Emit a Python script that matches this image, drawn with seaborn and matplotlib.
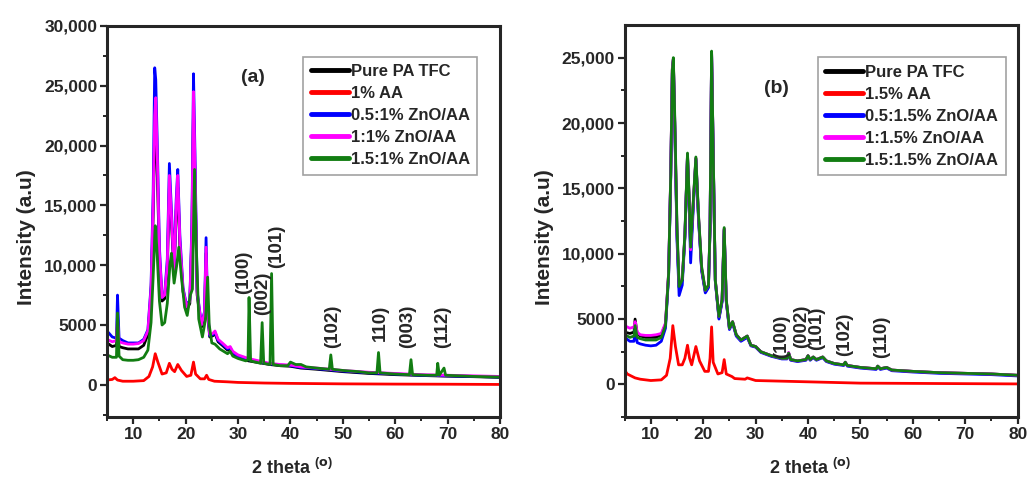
import matplotlib
matplotlib.use("Agg")
import matplotlib.pyplot as plt
import seaborn as sns
import pandas as pd

# ---------------- data: panel (a) ----------------
XA = [5, 6, 6.8, 7.0, 7.3, 8, 9, 10, 11, 12, 12.8, 13.4, 13.8, 14.1, 14.3, 14.6, 15.0, 15.5, 16.0, 16.5,
      16.9, 17.3, 17.8, 18.2, 18.5, 18.9, 19.5, 20.2, 20.8, 21.2, 21.5, 21.8, 22.2, 23.0, 23.6, 23.9, 24.2,
      24.6, 25.2, 25.6, 26.2, 27, 28, 28.5, 29, 30, 32, 34, 36, 38, 40, 42, 45, 50, 55, 60, 65, 70, 75, 80]
A_PURE = [3500, 3200, 3300, 5000, 3200, 3100, 3000, 3000, 3000, 3300, 4200, 7500, 14000, 21000, 22000,
          17500, 10500, 7000, 7200, 9500, 16500, 13500, 9200, 14500, 16500, 11500, 7800, 6300, 6800, 12500,
          23000, 17000, 7500, 4800, 5800, 11000, 5800, 4000, 4100, 4300, 3600, 3300, 2900, 3000, 2600,
          2300, 2000, 1850, 1700, 1600, 1550, 1400, 1300, 1100, 950, 850, 780, 720, 680, 620]
A_ZNO05 = [4500, 4000, 3900, 7500, 3900, 3700, 3500, 3500, 3500, 3800, 4600, 8300, 16000, 26500, 25500,
           20000, 11500, 7300, 7600, 10500, 18500, 14500, 9600, 15500, 18000, 12500, 8100, 6600, 7100, 13500,
           26000, 19000, 7800, 5100, 6100, 12300, 6100, 4100, 4200, 4400, 3700, 3400, 3000, 3100, 2700,
           2400, 2100, 1900, 1750, 1650, 1600, 1450, 1350, 1150, 1000, 900, 800, 750, 700, 650]
A_ZNO1 = [3800, 3600, 3700, 5500, 3600, 3500, 3400, 3400, 3450, 3700, 4500, 8000, 15000, 22500, 24000,
          19000, 11000, 7300, 7500, 10000, 17500, 14000, 9500, 15000, 17500, 12000, 8000, 6500, 7000, 13000,
          24500, 18000, 7700, 5000, 6000, 11500, 6000, 4200, 4300, 4500, 3800, 3500, 3100, 3200, 2800,
          2500, 2200, 2000, 1800, 1700, 1650, 1500, 1400, 1200, 1050, 950, 850, 800, 750, 700]
XA_G = [5, 6, 6.8, 7.0, 7.3, 8, 9, 10, 11, 12, 12.8, 13.4, 13.8, 14.2, 14.5, 15.0, 15.5, 16.0, 16.5, 17.0,
        17.3, 17.8, 18.3, 18.7, 19.2, 19.8, 20.3, 20.9, 21.3, 21.7, 22.0, 22.5, 23.2, 23.8, 24.2, 24.5, 25.0,
        25.6, 26.5, 28, 28.5, 29, 30, 31.5, 31.9, 32.1, 32.4, 34.3, 34.6, 34.9, 36.1, 36.4, 36.7, 38, 39.5,
        40, 41, 42, 43, 45, 47.4, 47.7, 48.0, 50, 53, 55, 56.5, 56.8, 57.1, 60, 62.7, 63.0, 63.3, 66, 67.9,
        68.1, 68.4, 69.3, 69.6, 75, 80]
A_ZNO15 = [2500, 2300, 2300, 6000, 2400, 2100, 2050, 2050, 2100, 2300, 2900, 5200, 9000, 13300, 11500,
           7000, 5000, 5200, 6800, 10000, 11000, 8500, 10000, 11500, 9000, 6500, 5800, 7500, 8000, 18000,
           12000, 5500, 4000, 5500, 9000, 5000, 3500, 3400, 3000, 2600, 2800, 2400, 2200, 2000, 2100,
           7300, 2000, 1800, 5200, 1800, 1700, 9300, 1700, 1600, 1600, 1900, 1700, 1700, 1500, 1400,
           1300, 2500, 1300, 1200, 1100, 1000, 1000, 2700, 1000, 900, 850, 2100, 850, 800, 800,
           1800, 800, 1400, 800, 700, 650]
XA_R = [5, 6, 6.5, 7.0, 8, 10, 12, 13, 13.7, 14.2, 14.7, 15.5, 16.3, 16.9, 17.4, 17.9, 18.5, 19.2, 20.2,
        21.0, 21.5, 21.9, 22.8, 23.6, 24.0, 24.4, 25.5, 28, 30, 35, 40, 50, 60, 70, 80]
A_AA = [400, 450, 600, 400, 300, 300, 350, 700, 1500, 2600, 1900, 900, 1000, 1800, 1300, 1100, 1700, 1200,
        700, 800, 1900, 900, 500, 500, 800, 450, 300, 250, 200, 150, 120, 80, 60, 50, 30]

# ---------------- data: panel (b) ----------------
XB = [5, 6, 6.8, 7.0, 7.4, 8, 9, 10, 11, 12, 12.8, 13.4, 13.8, 14.1, 14.3, 14.6, 15.0, 15.4, 16.0, 16.5,
      17.0, 17.3, 17.6, 18.1, 18.6, 19.1, 19.7, 20.4, 21.0, 21.3, 21.6, 21.9, 22.3, 23.0, 23.6, 24.0, 24.4,
      25.0, 25.6, 26.3, 27.2, 28.4, 29.1, 30, 31, 33, 35, 36.0, 36.3, 36.7, 38, 39.6, 40.0, 40.4, 41.0,
      41.6, 42.8, 43.5, 45, 46.8, 47.1, 47.5, 50, 53, 53.3, 53.8, 55, 56, 60, 65, 70, 75, 80]
B_PURE = [4000, 3900, 4000, 5000, 3900, 3700, 3600, 3600, 3600, 3800, 4600, 8500, 16000, 24100, 24900,
          19500, 11500, 7400, 8000, 11300, 17600, 14300, 10200, 13800, 17300, 12800, 8800, 7100, 7500, 11900,
          25400, 17900, 8000, 5100, 6400, 11900, 6400, 4300, 4800, 3800, 3400, 3700, 3000, 2900, 2500,
          2200, 2000, 2000, 2400, 1900, 1800, 1900, 2200, 1900, 2100, 1900, 2100, 1800, 1600, 1500,
          1700, 1450, 1300, 1200, 1400, 1200, 1300, 1100, 1000, 900, 850, 800, 700]
B_ZNO05 = [3600, 3300, 3300, 4600, 3200, 3100, 3000, 2950, 3000, 3300, 4300, 8300, 15800, 23800, 24800,
           19200, 11000, 6800, 7600, 11200, 17500, 14000, 9300, 13500, 17200, 12600, 8700, 7000, 7400, 11800,
           25300, 17800, 7900, 5000, 6300, 11800, 6300, 4200, 4700, 3700, 3300, 3600, 2950, 2850, 2450,
           2150, 1950, 1950, 2350, 1850, 1750, 1850, 2150, 1850, 2050, 1850, 2050, 1750, 1550, 1450,
           1650, 1400, 1250, 1150, 1350, 1150, 1250, 1050, 950, 850, 800, 750, 650]
B_ZNO1 = [4500, 4300, 4400, 4800, 4000, 3800, 3750, 3750, 3800, 3900, 4700, 8600, 16100, 24200, 24900,
          19600, 11600, 7600, 8100, 11400, 17600, 14400, 10300, 13900, 17300, 12900, 8900, 7200, 7600, 12000,
          25400, 17900, 8000, 5200, 6500, 11900, 6400, 4300, 4800, 3800, 3400, 3700, 3000, 2900, 2500,
          2200, 2000, 2000, 2450, 1900, 1800, 1900, 2200, 1900, 2100, 1900, 2100, 1800, 1600, 1500,
          1700, 1450, 1300, 1200, 1400, 1200, 1300, 1100, 1000, 900, 850, 800, 700]
B_ZNO15 = [3800, 3600, 3700, 4500, 3600, 3500, 3400, 3400, 3400, 3600, 4500, 8500, 16000, 24000, 25000,
           20000, 12000, 7500, 8000, 11500, 17700, 14500, 10500, 14000, 17400, 13000, 9000, 7200, 7600, 12000,
           25500, 18000, 8000, 5200, 6500, 12000, 6500, 4300, 4800, 3800, 3400, 3700, 3000, 2900, 2500,
           2200, 2000, 2000, 2400, 1900, 1800, 1900, 2200, 1900, 2100, 1900, 2100, 1800, 1600, 1500,
           1700, 1450, 1300, 1200, 1400, 1200, 1300, 1100, 1000, 900, 850, 800, 700]
XB_R = [5, 5.5, 6, 7, 8, 9, 10, 12, 13, 13.7, 14.2, 14.7, 15.3, 16.0, 16.5, 17.0, 17.4, 17.8, 18.6, 19.3,
        20.3, 21.0, 21.3, 21.6, 21.9, 22.8, 23.6, 24.0, 24.4, 25.5, 26, 28, 28.4, 30, 35, 40, 45, 50, 60, 70, 80]
B_AA = [1100, 800, 700, 500, 400, 350, 300, 350, 700, 2000, 4500, 2900, 1500, 1500, 2000, 3000, 2000, 1500,
        2900, 1800, 1000, 1000, 2000, 4400, 1700, 800, 900, 1900, 800, 600, 450, 400, 500, 300, 250, 200,
        150, 100, 80, 60, 40]

LABELS_A = ["Pure PA TFC", "1% AA", "0.5:1% ZnO/AA", "1:1% ZnO/AA", "1.5:1% ZnO/AA"]
LABELS_B = ["Pure PA TFC", "1.5% AA", "0.5:1.5% ZnO/AA", "1:1.5% ZnO/AA", "1.5:1.5% ZnO/AA"]
COLORS = ["#000000", "#ff0000", "#0000ff", "#ff00ff", "#127d12"]

PEAKS_A = ["(100)", "(002)", "(101)", "(102)", "110)", "(003)", "(112)"]
PEAKS_A_X = [31.0, 34.6, 37.4, 48.1, 57.1, 62.4, 69.1]
PEAKS_A_Y = [7600, 5800, 9800, 3100, 3700, 3100, 3100]
PEAKS_B = ["(100)", "(002)", "(101)", "(102)", "(110)"]
PEAKS_B_X = [35.0, 38.7, 41.7, 47.0, 54.0]
PEAKS_B_Y = [2000, 2760, 2600, 2200, 2000]

YTICKS_A = [0, 5000, 10000, 15000, 20000, 25000, 30000]
YTICKS_B = [0, 5000, 10000, 15000, 20000, 25000]
YTICKLABELS = ["0", "5000", "10,000", "15,000", "20,000", "25,000", "30,000"]
XTICKS = [10, 20, 30, 40, 50, 60, 70, 80]

sns.set_style("ticks")
plt.rcParams["font.family"] = ["Liberation Sans", "DejaVu Sans"]
plt.rcParams["font.weight"] = "bold"
plt.rcParams["axes.labelweight"] = "bold"
plt.rcParams["mathtext.default"] = "regular"

fig = plt.figure(figsize=(10.29, 4.8), dpi=100)
axA = fig.add_axes([0.104, 0.131, 0.382, 0.815])
axB = fig.add_axes([0.607, 0.131, 0.382, 0.817])

series_A = [(XA, A_PURE), (XA_R, A_AA), (XA, A_ZNO05), (XA, A_ZNO1), (XA_G, A_ZNO15)]
series_B = [(XB, B_PURE), (XB_R, B_AA), (XB, B_ZNO05), (XB, B_ZNO1), (XB, B_ZNO15)]


def draw(ax, series, labels, ylim, yticks, peaks, px, py, tag, tagpos, legpos):
    for (x, y), lab, col in zip(series, labels, COLORS):
        df = pd.DataFrame({"x": x, "y": y})
        sns.lineplot(data=df, x="x", y="y", ax=ax, color=col, linewidth=2.0, label=lab, sort=False)
    ax.set_xlim(5, 80)
    ax.set_ylim(*ylim)
    ax.set_xticks(XTICKS)
    ax.set_xticklabels([str(t) for t in XTICKS])
    ax.set_xticks([5, 15, 25, 35, 45, 55, 65, 75], minor=True)
    ax.set_yticks(yticks)
    ax.set_yticklabels(YTICKLABELS[:len(yticks)])
    ax.set_yticks([t + 2500 for t in yticks[:-1]] + [-2500], minor=True)
    ax.tick_params(axis="both", which="major", direction="out", length=5, width=1.6,
                   labelsize=12.5, pad=2)
    ax.tick_params(axis="both", which="minor", direction="out", length=3, width=1.4)
    for lab in ax.get_xticklabels() + ax.get_yticklabels():
        lab.set_fontweight("bold")
    for sp in ax.spines.values():
        sp.set_linewidth(2.2)
        sp.set_visible(True)
    ax.set_xlabel(r"2 theta $^{(\mathrm{o})}$", fontsize=13, fontweight="bold")
    ax.set_ylabel("Intensity (a.u)", fontsize=15, fontweight="bold")
    ax.xaxis.set_label_coords(0.47, -0.105)
    ax.yaxis.set_label_coords(-0.18, 0.46)
    for t, x, y in zip(peaks, px, py):
        ax.text(x, y, t, rotation=90, ha="center", va="bottom", fontsize=13.5, fontweight="bold")
    ax.text(tagpos[0], tagpos[1], tag, transform=ax.transAxes, ha="center", va="center",
            fontsize=14, fontweight="bold")
    leg = ax.legend(loc="upper left", bbox_to_anchor=legpos, borderaxespad=0, frameon=True,
                    fancybox=False, edgecolor="#8a8a8a", handlelength=2.3,
                    handletextpad=0.1, labelspacing=0.42, borderpad=0.45,
                    prop={"weight": "bold", "size": 12})
    leg.get_frame().set_linewidth(1.2)
    for line in leg.get_lines():
        line.set_linewidth(3.5)


draw(axA, series_A, LABELS_A, (-2700, 30000), YTICKS_A, PEAKS_A, PEAKS_A_X, PEAKS_A_Y,
     "(a)", (0.371, 0.867), (0.499, 0.921))
draw(axB, series_B, LABELS_B, (-2500, 27500), YTICKS_B, PEAKS_B, PEAKS_B_X, PEAKS_B_Y,
     "(b)", (0.387, 0.839), (0.491, 0.918))

fig.savefig("out.png", dpi=100)
